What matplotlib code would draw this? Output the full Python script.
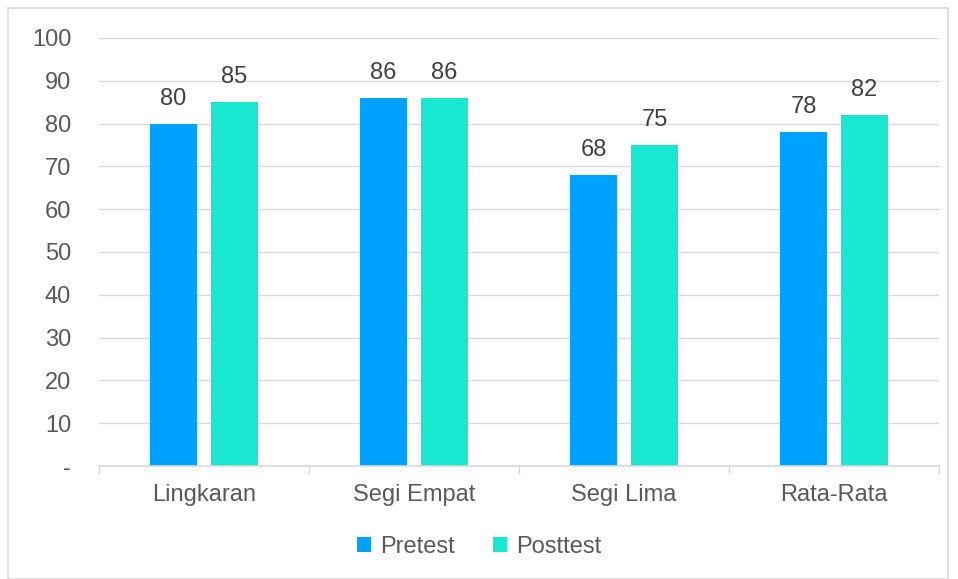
import numpy as np
import matplotlib.pyplot as plt
from matplotlib.patches import Rectangle

plt.rcParams['font.family'] = ['Liberation Sans', 'DejaVu Sans']

categories = ['Lingkaran', 'Segi Empat', 'Segi Lima', 'Rata-Rata']
pretest = [80, 86, 68, 78]
posttest = [85, 86, 75, 82]
yticks = [0, 10, 20, 30, 40, 50, 60, 70, 80, 90, 100]
ytick_labels = ['-'] + [str(v) for v in yticks[1:]]

blue = '#00A2FF'
cyan = '#18E8D0'
grid_col = '#D9D9D9'
text_col = '#595959'
fs = 17

fig = plt.figure(figsize=(9.58, 5.79), dpi=100)
fig.patches.append(Rectangle((8 / 958, 0.0), 940 / 958, 1 - 8 / 579,
                             transform=fig.transFigure, fill=False,
                             edgecolor=grid_col, linewidth=1.2))
ax = fig.add_axes([99 / 958, 1 - 466 / 579, 840 / 958, 428 / 579])

x = np.arange(len(categories))
w = 0.224
off = 0.145
b1 = ax.bar(x - off, pretest, w, color=blue, label='Pretest', zorder=3)
b2 = ax.bar(x + off, posttest, w, color=cyan, label='Posttest', zorder=3)

for bars, vals in ((b1, pretest), (b2, posttest)):
    for r, v in zip(bars, vals):
        ax.annotate(str(v), (r.get_x() + r.get_width() / 2, v),
                    xytext=(0, 10), textcoords='offset points',
                    ha='center', va='bottom', fontsize=fs, color='#404040')

ax.set_xlim(-0.5, len(categories) - 0.5)
ax.set_ylim(0, 100)
ax.set_yticks(yticks)
ax.set_yticklabels(ytick_labels)
ax.set_xticks(x)
ax.set_xticklabels(categories)
ax.set_xticks(np.arange(len(categories) + 1) - 0.5, minor=True)
ax.tick_params(axis='x', which='major', length=0, pad=13, labelsize=fs, labelcolor=text_col)
ax.tick_params(axis='x', which='minor', length=6, color=grid_col, width=1)
ax.tick_params(axis='y', length=0, pad=20, labelsize=fs, labelcolor=text_col)

ax.grid(axis='y', color=grid_col, linewidth=1, zorder=0)
for s in ['top', 'right', 'left']:
    ax.spines[s].set_visible(False)
ax.spines['bottom'].set_color(grid_col)
ax.spines['bottom'].set_linewidth(1.2)
ax.spines['bottom'].set_zorder(4)

leg = fig.legend(handles=[b1, b2], loc='center', bbox_to_anchor=(0.5, 1 - 547 / 579),
                 ncol=2, frameon=False, fontsize=fs, handlelength=0.6, handleheight=0.6,
                 columnspacing=1.6, handletextpad=0.4)
for t in leg.get_texts():
    t.set_color(text_col)

fig.savefig('out.png', dpi=100)
